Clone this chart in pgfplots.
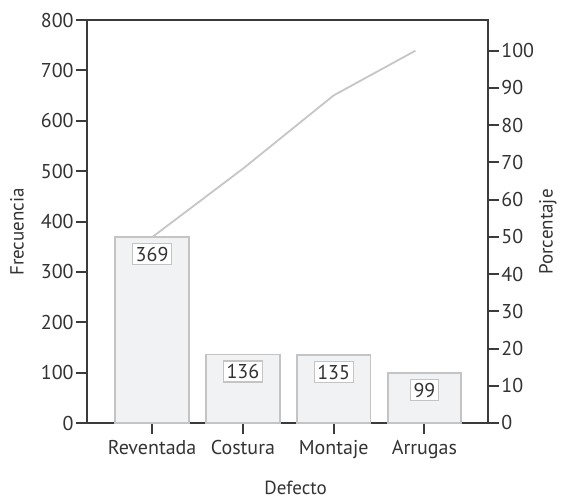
\documentclass[border=0pt]{standalone}
\usepackage{fontspec}
\setmainfont{PT Sans}
\usepackage{pgfplots}
\pgfplotsset{compat=1.18}
\definecolor{axisgray}{HTML}{3B3B3B}
\definecolor{textgray}{HTML}{333333}
\definecolor{barfill}{HTML}{F1F2F4}
\definecolor{bargray}{HTML}{C4C4C4}
\definecolor{linegray}{HTML}{C6C6C6}
\begin{document}
\begin{tikzpicture}
\pgfplotsset{
  common/.style={
    scale only axis, width=200.5pt, height=201.5pt,
    xmin=-0.717, xmax=3.70,
    tick align=outside, major tick length=5.5pt,
    axis line style={draw=axisgray, line width=1pt},
    tick style={draw=axisgray, line width=1pt},
    tick label style={font=\fontsize{10}{12}\selectfont, text=textgray, inner sep=1pt},
    label style={font=\fontsize{9.5}{11}\selectfont, text=textgray},
    /pgf/number format/assume math mode=true,
  }
}
\begin{axis}[common,
  ymin=0, ymax=800,
  ytick={0,100,...,800}, ytick pos=left,
  xtick={0,1,2,3}, xtick pos=bottom,
  xticklabels={Reventada,Costura,Montaje,Arrugas},
  xticklabel style={yshift=-2pt},
  ylabel={Frecuencia},
  ylabel style={at={(rel axis cs:0,0.474)}, anchor=center, rotate=0, yshift=35pt},
  xlabel={Defecto},
  xlabel style={at={(axis cs:1.58,0)}, anchor=center, yshift=-32.5pt},
]
\addplot[ybar, bar width=0.81, fill=barfill, draw=bargray, line width=0.9pt,
  nodes near coords,
  every node near coord/.style={anchor=north, yshift=-3pt, draw=bargray, fill=white,
    line width=0.6pt, inner sep=1.6pt, font=\fontsize{10}{12}\selectfont, text=textgray}]
  coordinates {(0,369) (1,136) (2,135) (3,99)};
\end{axis}
\begin{axis}[common,
  ymin=0, ymax=108.254,
  axis y line*=right, axis x line=none,
  ytick={0,10,...,100},
  ylabel={Porcentaje},
  ylabel style={at={(rel axis cs:1,0.474)}, anchor=center, rotate=0, yshift=-30pt},
]
\addplot[linegray, line width=0.9pt] coordinates {(0,49.9) (1,68.3) (2,88) (2.9,100)};
\end{axis}
\pgfresetboundingbox
\path[use as bounding box] (-43.5pt,-37pt) rectangle (237pt,211.5pt);
\end{tikzpicture}
\end{document}
